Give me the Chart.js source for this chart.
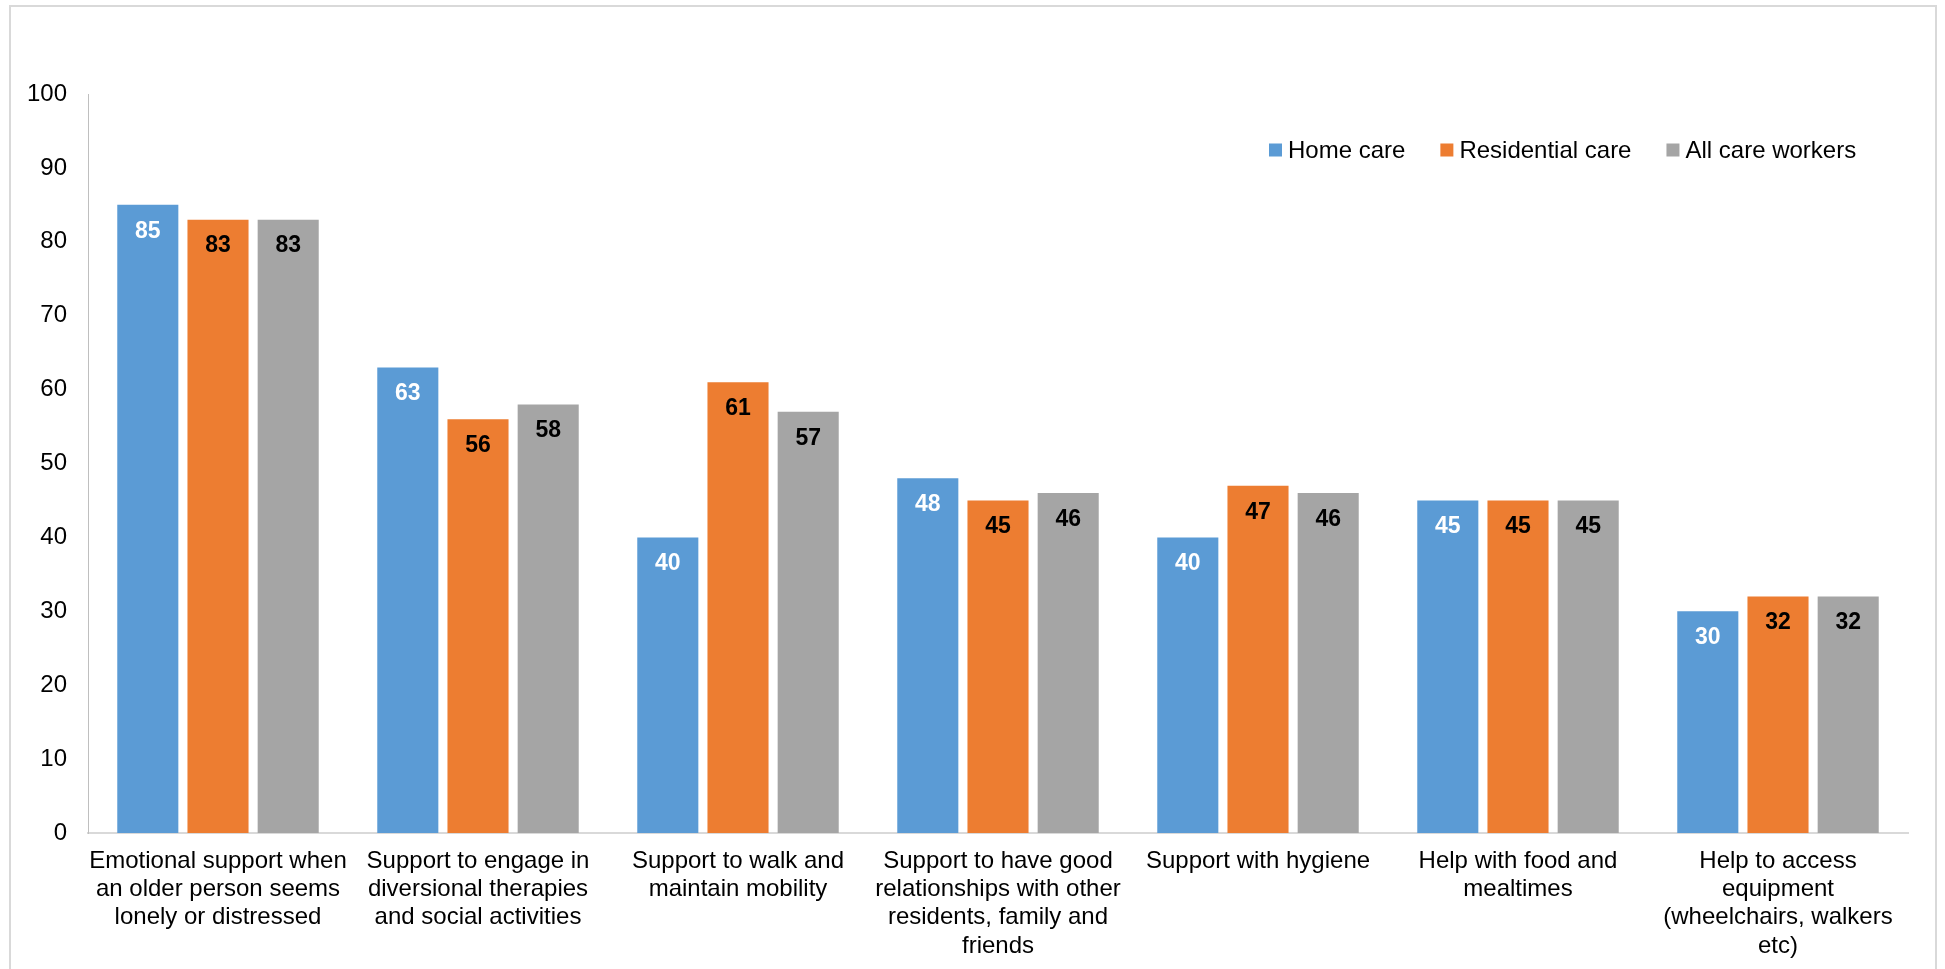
<!DOCTYPE html>
<html>
<head>
<meta charset="utf-8">
<title>Care tasks by setting</title>
<script src="https://cdn.jsdelivr.net/npm/chart.js@4/dist/chart.umd.min.js"></script>
<style>
  html, body { margin: 0; padding: 0; background: #ffffff; overflow: hidden; }
  #wrap { position: relative; width: 1945px; height: 969px; }
  #frame {
    position: absolute; left: 9px; top: 5px; width: 1928px; height: 990px;
    border: 2px solid #d9d9d9; box-sizing: border-box; pointer-events: none;
  }
  canvas { position: absolute; left: 0; top: 0; }
</style>
</head>
<body>
<div id="wrap">
  <canvas id="chart" width="1945" height="969"></canvas>
  <div id="frame"></div>
</div>
<script>
// Categories (multi-line labels as drawn under the axis)
const categories = [
  ["Emotional support when", "an older person seems", "lonely or distressed"],
  ["Support to engage in", "diversional therapies", "and social activities"],
  ["Support to walk and", "maintain mobility"],
  ["Support to have good", "relationships with other", "residents, family and", "friends"],
  ["Support with hygiene"],
  ["Help with food and", "mealtimes"],
  ["Help to access", "equipment", "(wheelchairs, walkers", "etc)"]
];

// Series values (%)
const homeCare        = [85, 63, 40, 48, 40, 45, 30];
const residentialCare = [83, 56, 61, 45, 47, 45, 32];
const allCareWorkers  = [83, 58, 57, 46, 46, 45, 32];

const seriesNames  = ["Home care", "Residential care", "All care workers"];
const seriesColors = ["#5B9BD5", "#ED7D31", "#A5A5A5"];
const valueLabelColors = ["#ffffff", "#000000", "#000000"];

// Y axis ticks
const yMin = 0, yMax = 100, yStep = 10;

const FONT = "'Liberation Sans', Arial, Helvetica, sans-serif";

// Value labels inside the top of each bar
const valueLabels = {
  id: 'valueLabels',
  afterDatasetsDraw(chart) {
    const ctx = chart.ctx;
    ctx.save();
    ctx.font = "bold 23px " + FONT;
    ctx.textAlign = 'center';
    ctx.textBaseline = 'middle';
    chart.data.datasets.forEach((ds, i) => {
      const meta = chart.getDatasetMeta(i);
      ctx.fillStyle = valueLabelColors[i];
      meta.data.forEach((bar, j) => {
        ctx.fillText(String(ds.data[j]), bar.x, bar.y + 26.5);
      });
    });
    ctx.restore();
  }
};

// Legend drawn inside the plot area, top right
const insideLegend = {
  id: 'insideLegend',
  afterDraw(chart) {
    const ctx = chart.ctx;
    ctx.save();
    ctx.font = "24px " + FONT;
    ctx.textBaseline = 'middle';
    ctx.textAlign = 'left';
    let x = 1269;
    const cy = 150;
    const box = 13, gap = 6, itemGap = 35;
    chart.data.datasets.forEach((ds) => {
      ctx.fillStyle = ds.backgroundColor;
      ctx.fillRect(x, cy - box / 2, box, box);
      x += box + gap;
      ctx.fillStyle = '#000000';
      ctx.fillText(ds.label, x, cy + 1);
      x += ctx.measureText(ds.label).width + itemGap;
    });
    ctx.restore();
  }
};

const seriesData = [homeCare, residentialCare, allCareWorkers];

new Chart(document.getElementById('chart'), {
  type: 'bar',
  data: {
    labels: categories,
    datasets: seriesNames.map((name, i) => ({
      label: name,
      data: seriesData[i],
      backgroundColor: seriesColors[i],
      borderWidth: 0,
      categoryPercentage: 0.81,
      barPercentage: 0.87
    }))
  },
  options: {
    responsive: false,
    animation: false,
    devicePixelRatio: 1,
    layout: { padding: { top: 94, right: 37, bottom: 0, left: 0 } },
    plugins: {
      legend: { display: false },
      tooltip: { enabled: false },
      title: { display: false }
    },
    scales: {
      x: {
        grid: { display: false, drawTicks: false, tickLength: 0 },
        border: { display: true, color: '#d9d9d9', width: 2 },
        ticks: {
          color: '#000000',
          font: { family: FONT, size: 24, lineHeight: 1.18 },
          padding: 14,
          maxRotation: 0,
          minRotation: 0,
          autoSkip: false
        },
        afterFit(scale) { scale.height = 136; }
      },
      y: {
        min: yMin,
        max: yMax,
        grid: { display: false, drawTicks: false, tickLength: 0 },
        border: { display: true, color: '#bfbfbf', width: 1 },
        ticks: {
          stepSize: yStep,
          color: '#000000',
          font: { family: FONT, size: 24 },
          padding: 21
        },
        afterFit(scale) { scale.width = 88; }
      }
    }
  },
  plugins: [valueLabels, insideLegend]
});
</script>
</body>
</html>
